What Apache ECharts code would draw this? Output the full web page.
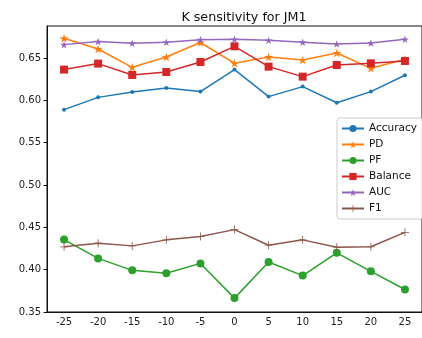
<!DOCTYPE html>
<html>
<head>
<meta charset="utf-8">
<script src="https://cdn.jsdelivr.net/npm/echarts@6/dist/echarts.min.js"></script>
<style>
  html, body { margin: 0; padding: 0; background: #fff; }
  #chart { width: 422px; height: 338px; }
</style>
</head>
<body>
<div id="chart"></div>
<script>
// K values on the x axis
const kValues = ['-25', '-20', '-15', '-10', '-5', '0', '5', '10', '15', '20', '25'];

// metric values for each K
const accuracy = [0.589, 0.6035, 0.6098, 0.6145, 0.6103, 0.6363, 0.6044, 0.6162, 0.5972, 0.6103, 0.6296];
const pd       = [0.6733, 0.6606, 0.639, 0.6512, 0.6683, 0.6437, 0.6512, 0.6477, 0.6559, 0.6378, 0.6485];
const pf       = [0.4355, 0.4133, 0.3992, 0.3957, 0.4074, 0.3664, 0.4090, 0.3930, 0.4199, 0.3980, 0.3766];
const balance  = [0.6363, 0.6434, 0.6300, 0.6335, 0.6453, 0.6638, 0.6398, 0.6280, 0.6417, 0.6437, 0.6465];
const auc      = [0.6658, 0.6694, 0.6674, 0.6686, 0.6717, 0.6721, 0.6709, 0.6686, 0.6666, 0.6678, 0.6721];
const f1       = [0.4270, 0.4313, 0.4281, 0.4352, 0.4391, 0.4473, 0.4289, 0.4352, 0.4266, 0.4270, 0.4441];

// y tick labels
const yTicks = [0.35, 0.40, 0.45, 0.50, 0.55, 0.60, 0.65];

const STAR = 'path://M0,-10 L2.245,-3.09 L9.51,-3.09 L3.633,1.18 L5.878,8.09 L0,3.82 L-5.878,8.09 L-3.633,1.18 L-9.51,-3.09 L-2.245,-3.09 Z';
const PLUS = 'path://M-1,-10 H1 V-1 H10 V1 H1 V10 H-1 V1 H-10 V-1 H-1 Z';

const FONT = 'DejaVu Sans';

function line(name, data, color, symbol, size, z) {
  return {
    name, type: 'line', data, z,
    symbol, symbolSize: size, symbolKeepAspect: true, showAllSymbol: true,
    lineStyle: { color, width: 1.5 },
    itemStyle: { color, borderWidth: 0 },
    emphasis: { disabled: true },
    animation: false
  };
}

const chart = echarts.init(document.getElementById('chart'), null, { renderer: 'canvas' });
chart.setOption({
  animation: false,
  title: {
    text: 'K sensitivity for JM1',
    left: 239, top: 6, textAlign: 'center',
    textStyle: { fontFamily: FONT, fontSize: 12.7, fontWeight: 'normal', color: '#111' }
  },
  grid: {
    left: 47, right: -8, top: 26, bottom: 26,
    show: true, borderColor: '#111', borderWidth: 1, backgroundColor: 'transparent'
  },
  legend: {
    orient: 'vertical', left: 337, top: 118,
    backgroundColor: 'rgba(255,255,255,0.85)', borderColor: '#ccc', borderWidth: 1, borderRadius: 3,
    padding: [5, 6, 5, 4], itemGap: 5, itemWidth: 22, itemHeight: 9,
    textStyle: { fontFamily: FONT, fontSize: 10.5, color: '#111' },
    data: ['Accuracy', 'PD', 'PF', 'Balance', 'AUC', 'F1'],
    z: 20
  },
  xAxis: {
    type: 'category', data: kValues, boundaryGap: true,
    axisLine: { lineStyle: { color: '#111', width: 1 } },
    axisTick: { alignWithLabel: true, length: 3.5, lineStyle: { color: '#111' } },
    axisLabel: { fontFamily: FONT, fontSize: 10, color: '#222', margin: 5, interval: 0 },
    splitLine: { show: false }
  },
  yAxis: {
    type: 'value', min: 0.35, max: 0.6878,
    axisLine: { show: true, lineStyle: { color: '#111', width: 1 } },
    axisTick: { show: true, length: 3.5, lineStyle: { color: '#111' }, customValues: yTicks },
    axisLabel: {
      fontFamily: FONT, fontSize: 10, color: '#222', margin: 6,
      customValues: yTicks, formatter: v => v.toFixed(2)
    },
    splitLine: { show: false }
  },
  series: [
    line('Accuracy', accuracy, '#1f77b4', 'circle', 4, 2),
    line('PD', pd, '#ff7f0e', STAR, 9, 3),
    line('PF', pf, '#2ca02c', 'circle', 8, 4),
    line('Balance', balance, '#d62728', 'rect', 8, 5),
    line('AUC', auc, '#9467bd', STAR, 8, 6),
    line('F1', f1, '#8c564b', PLUS, 8, 7)
  ]
});
</script>
</body>
</html>
